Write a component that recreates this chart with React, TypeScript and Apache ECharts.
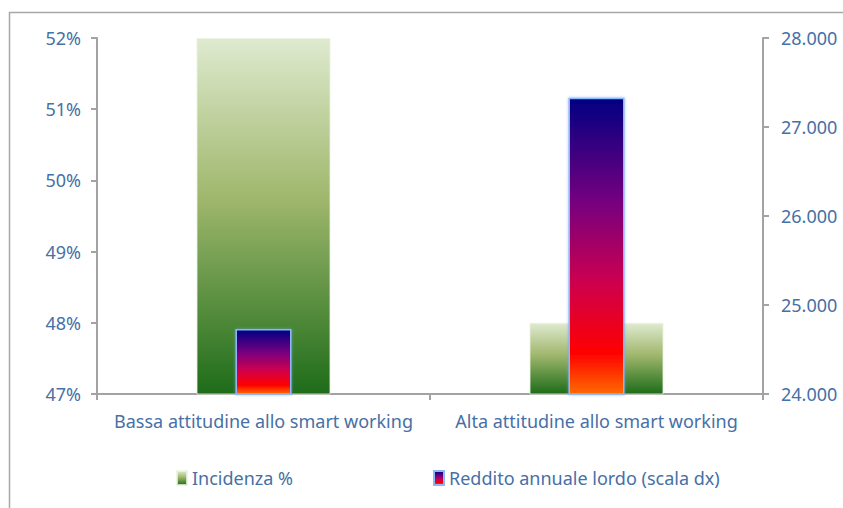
import React, { useEffect, useRef } from "react";
import * as echarts from "echarts";

const categories = [
  "Bassa attitudine allo smart working",
  "Alta attitudine allo smart working",
];
const incidenza = [52, 48]; // % (left axis)
const reddito = [24730, 27330]; // euro (right axis)
const leftTicks = { min: 47, max: 52, interval: 1 };
const rightTicks = { min: 24000, max: 28000, interval: 1000 };

const FONT = "'Liberation Sans Narrow', 'Arial Narrow', 'Noto Sans', sans-serif";
const TEXT = "#4670a6";
const AXIS = "#a3a3a3";

const greenGrad = new echarts.graphic.LinearGradient(0, 0, 0, 1, [
  { offset: 0, color: "#dfeacf" },
  { offset: 0.45, color: "#9fb76c" },
  { offset: 1, color: "#1d6c19" },
]);
const redGrad = new echarts.graphic.LinearGradient(0, 0, 0, 1, [
  { offset: 0, color: "#000082" },
  { offset: 0.35, color: "#75007f" },
  { offset: 0.62, color: "#cc004f" },
  { offset: 0.86, color: "#ff0000" },
  { offset: 1, color: "#ff6a00" },
]);

const fmtThousands = (v: number) =>
  String(Math.round(v)).replace(/\B(?=(\d{3})+(?!\d))/g, ".");

export default function App() {
  const ref = useRef<HTMLDivElement>(null);
  useEffect(() => {
    if (!ref.current) return;
    const chart = echarts.init(ref.current, null, { renderer: "svg" });
    chart.setOption({
      animation: false,
      backgroundColor: "#ffffff",
      textStyle: { fontFamily: FONT },
      graphic: [
        {
          type: "rect",
          z: -10,
          shape: { x: 9.5, y: 12.5, width: 900, height: 600 },
          style: { fill: "none", stroke: "#a8a8a8", lineWidth: 1.5 },
        },
      ],
      grid: { left: 97, top: 38, width: 666, height: 356 },
      legend: [
        {
          left: 171,
          top: 464,
          data: ["Incidenza %"],
          icon: "rect",
          itemWidth: 10,
          itemHeight: 14,
          itemGap: 6,
          textStyle: { color: TEXT, fontSize: 18, fontFamily: FONT },
        },
        {
          left: 428,
          top: 464,
          data: ["Reddito annuale lordo (scala dx)"],
          icon: "rect",
          itemWidth: 10,
          itemHeight: 14,
          textStyle: { color: TEXT, fontSize: 18, fontFamily: FONT },
        },
      ],
      xAxis: [
        {
          type: "category",
          data: categories,
          axisLine: { lineStyle: { color: AXIS, width: 2 } },
          axisTick: { show: true, length: 6, lineStyle: { color: AXIS, width: 2 } },
          axisLabel: {
            color: TEXT,
            fontSize: 18,
            margin: 18,
            interval: 0,
            hideOverlap: false,
            fontFamily: FONT,
          },
        },
        { type: "category", data: categories, show: false },
      ],
      yAxis: [
        {
          type: "value",
          position: "left",
          ...leftTicks,
          splitLine: { show: false },
          axisLine: { show: true, lineStyle: { color: AXIS, width: 2 } },
          axisTick: { show: true, length: 6, lineStyle: { color: AXIS, width: 2 } },
          axisLabel: {
            color: TEXT,
            fontSize: 18,
            margin: 16,
            fontFamily: FONT,
            formatter: "{value}%",
          },
        },
        {
          type: "value",
          position: "right",
          ...rightTicks,
          splitLine: { show: false },
          axisLine: { show: true, lineStyle: { color: AXIS, width: 2 } },
          axisTick: { show: true, length: 6, lineStyle: { color: AXIS, width: 2 } },
          axisLabel: {
            color: TEXT,
            fontSize: 18,
            margin: 18,
            fontFamily: FONT,
            formatter: (v: number) => fmtThousands(v),
          },
        },
      ],
      series: [
        {
          name: "Incidenza %",
          type: "bar",
          xAxisIndex: 0,
          yAxisIndex: 0,
          data: incidenza,
          barWidth: 134,
          itemStyle: {
            color: greenGrad,
            borderColor: "rgba(235,242,225,0.8)",
            borderWidth: 1,
          },
        },
        {
          name: "Reddito annuale lordo (scala dx)",
          type: "bar",
          xAxisIndex: 1,
          yAxisIndex: 1,
          data: reddito,
          barWidth: 56,
          itemStyle: {
            color: redGrad,
            borderColor: "#8fb6f5",
            borderWidth: 1.5,
            shadowBlur: 3,
            shadowColor: "rgba(110,160,255,0.7)",
          },
        },
      ],
    });
    return () => chart.dispose();
  }, []);
  return (
    <div
      ref={ref}
      style={{ position: "fixed", left: 0, top: 0, width: 843, height: 508 }}
    />
  );
}
